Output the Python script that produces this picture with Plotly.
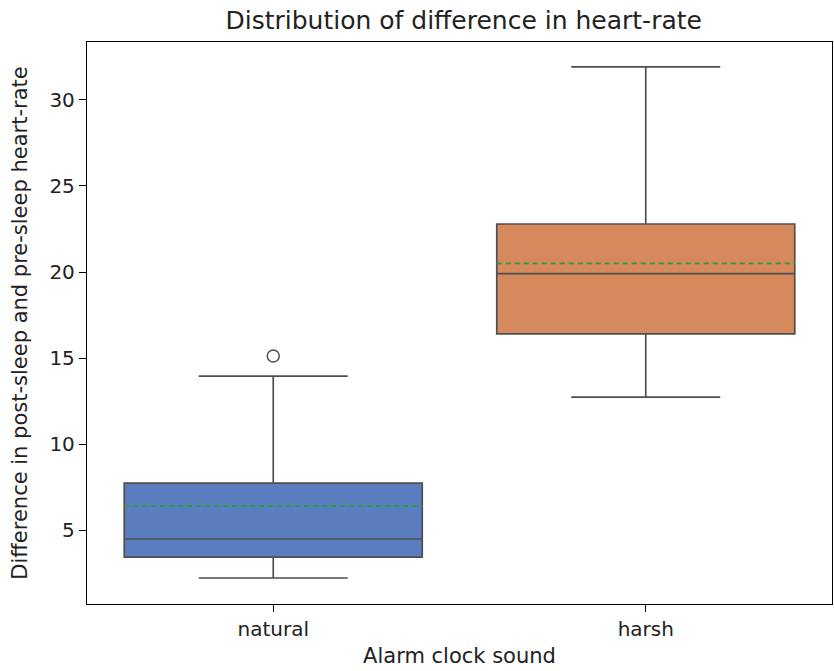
import plotly.graph_objects as go

categories = ["natural", "harsh"]
q1_vals = [3.43, 16.40]
median_vals = [4.48, 19.90]
q3_vals = [7.73, 22.79]
lower_whisker = [2.21, 12.73]
upper_whisker = [13.95, 31.92]
mean_vals = [6.40, 20.50]
outlier_cats = ["natural"]
outlier_vals = [15.12]
fill_colors = ["#597dbf", "#d6895c"]
line_color = "#4f4f4f"
box_width = 0.8

fig = go.Figure()
for i, cat in enumerate(categories):
    fig.add_trace(go.Box(
        x=[cat], q1=[q1_vals[i]], median=[median_vals[i]], q3=[q3_vals[i]],
        lowerfence=[lower_whisker[i]], upperfence=[upper_whisker[i]],
        fillcolor=fill_colors[i], line=dict(color=line_color, width=1.7),
        whiskerwidth=0.5, showlegend=False, boxpoints=False,
        hoverinfo="skip",
    ))

fig.add_trace(go.Scatter(
    x=outlier_cats, y=outlier_vals, mode="markers",
    marker=dict(symbol="circle-open", size=12, color=line_color, line=dict(width=1.5)),
    showlegend=False,
))

for i, m in enumerate(mean_vals):
    fig.add_shape(type="line", xref="x", yref="y",
                  x0=i - box_width / 2, x1=i + box_width / 2, y0=m, y1=m,
                  line=dict(color="#2ca02c", width=1.7, dash="5px,4px"))

axis_common = dict(showline=True, linecolor="black", linewidth=1.3, mirror=True,
                   ticks="outside", ticklen=7, tickwidth=1.3, tickcolor="black", showgrid=False,
                   zeroline=False, tickfont=dict(size=20, color="#222"))

fig.update_layout(
    width=834, height=671,
    paper_bgcolor="white", plot_bgcolor="white",
    font=dict(family="DejaVu Sans", color="#222"),
    margin=dict(l=87, r=2, t=42, b=67),
    boxmode="overlay", boxgap=0.2, boxgroupgap=0,
    title=dict(text="Distribution of difference in heart-rate", x=0.556, xanchor="center",
               y=1 - 20 / 671, yanchor="middle", font=dict(size=25, color="#222")),
)
fig.update_xaxes(axis_common, categoryorder="array", categoryarray=categories,
                 range=[-0.5, 1.5],
                 title=dict(text="Alarm clock sound", font=dict(size=21), standoff=8))
fig.update_yaxes(axis_common, range=[0.70, 33.37], tickvals=[5, 10, 15, 20, 25, 30],
                 title=dict(text="Difference in post-sleep and pre-sleep heart-rate",
                            font=dict(size=21), standoff=16))

fig.write_html("out.html")
